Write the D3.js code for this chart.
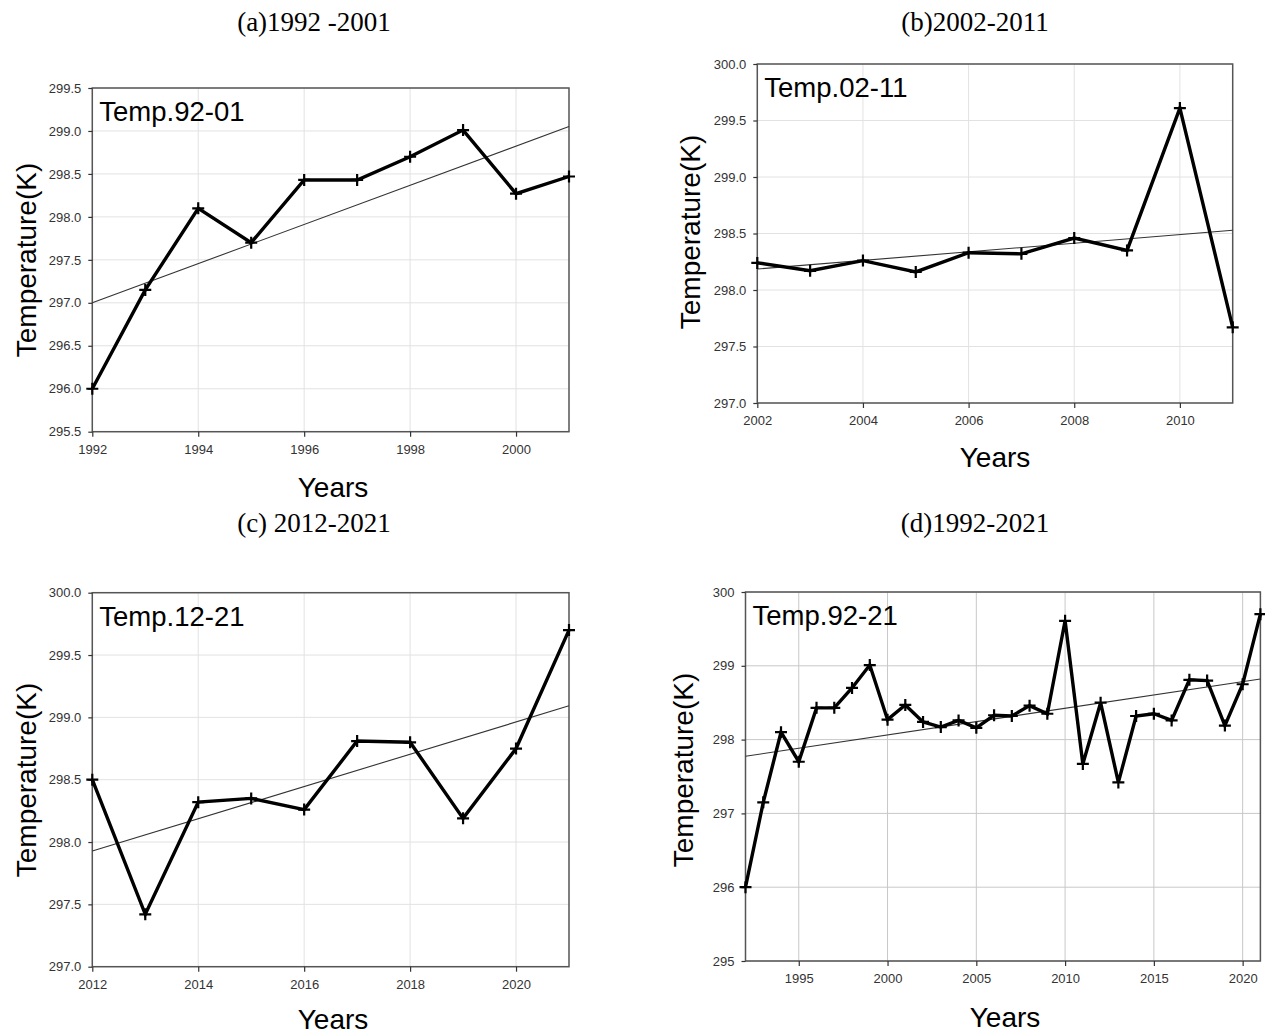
<!DOCTYPE html>
<html>
<head>
<meta charset="utf-8">
<script src="https://cdn.jsdelivr.net/npm/d3@7"></script>
<style>
  body { margin: 0; background: #fff; }
  svg { display: block; }
</style>
</head>
<body>
<svg id="chart" width="1265" height="1036"></svg>
<script>
// ---- Data ----
const yearsA = [1992, 1993, 1994, 1995, 1996, 1997, 1998, 1999, 2000, 2001];
const tempA  = [296.00, 297.15, 298.10, 297.70, 298.43, 298.43, 298.70, 299.01, 298.27, 298.47];

const yearsB = [2002, 2003, 2004, 2005, 2006, 2007, 2008, 2009, 2010, 2011];
const tempB  = [298.24, 298.17, 298.26, 298.16, 298.33, 298.32, 298.46, 298.35, 299.61, 297.67];

const yearsC = [2012, 2013, 2014, 2015, 2016, 2017, 2018, 2019, 2020, 2021];
const tempC  = [298.50, 297.42, 298.32, 298.35, 298.26, 298.81, 298.80, 298.19, 298.75, 299.70];

const yearsD = yearsA.concat(yearsB, yearsC);
const tempD  = tempA.concat(tempB, tempC);

const ticksYA = [295.5, 296.0, 296.5, 297.0, 297.5, 298.0, 298.5, 299.0, 299.5];
const ticksYB = [297.0, 297.5, 298.0, 298.5, 299.0, 299.5, 300.0];
const ticksYC = [297.0, 297.5, 298.0, 298.5, 299.0, 299.5, 300.0];
const ticksYD = [295, 296, 297, 298, 299, 300];

const ticksXA = [1992, 1994, 1996, 1998, 2000];
const ticksXB = [2002, 2004, 2006, 2008, 2010];
const ticksXC = [2012, 2014, 2016, 2018, 2020];
const ticksXD = [1995, 2000, 2005, 2010, 2015, 2020];

const panelTitles = ["(a)1992 -2001", "(b)2002-2011", "(c) 2012-2021", "(d)1992-2021"];
const insetLabels = ["Temp.92-01", "Temp.02-11", "Temp.12-21", "Temp.92-21"];

// ---- Layout ----
const svg = d3.select("#chart");
const SANS = "'Liberation Sans', Arial, sans-serif";
const SERIF = "'Liberation Serif', 'Times New Roman', serif";

const panels = [
  { years: yearsA, temps: tempA, ticksY: ticksYA, ticksX: ticksXA, yDom: [295.5, 299.5], fmt: d3.format(".1f"),
    box: { l: 92.3, r: 569, t: 88, b: 431.7 }, title: panelTitles[0], titlePos: [314, 31],
    inset: insetLabels[0], ytPos: [26, 260], xtPos: [333, 497], grid: "#e2e2e2" },
  { years: yearsB, temps: tempB, ticksY: ticksYB, ticksX: ticksXB, yDom: [297, 300], fmt: d3.format(".1f"),
    box: { l: 757.3, r: 1232.7, t: 64, b: 403 }, title: panelTitles[1], titlePos: [975, 31],
    inset: insetLabels[1], ytPos: [690, 232], xtPos: [995, 467], grid: "#e2e2e2" },
  { years: yearsC, temps: tempC, ticksY: ticksYC, ticksX: ticksXC, yDom: [297, 300], fmt: d3.format(".1f"),
    box: { l: 92.3, r: 569, t: 592.7, b: 966.7 }, title: panelTitles[2], titlePos: [314, 532],
    inset: insetLabels[2], ytPos: [26, 780], xtPos: [333, 1029], grid: "#e2e2e2" },
  { years: yearsD, temps: tempD, ticksY: ticksYD, ticksX: ticksXD, yDom: [295, 300], fmt: d3.format("d"),
    box: { l: 745.5, r: 1260.4, t: 592, b: 961 }, title: panelTitles[3], titlePos: [975, 532],
    inset: insetLabels[3], ytPos: [683, 770], xtPos: [1005, 1027], grid: "#c8c8c8" }
];

panels.forEach(p => {
  const x = d3.scaleLinear().domain(d3.extent(p.years)).range([p.box.l, p.box.r]);
  const y = d3.scaleLinear().domain(p.yDom).range([p.box.b, p.box.t]);
  const g = svg.append("g");

  // grid lines
  g.append("g").selectAll("line").data(p.ticksY).join("line")
    .attr("x1", p.box.l).attr("x2", p.box.r)
    .attr("y1", d => y(d)).attr("y2", d => y(d))
    .attr("stroke", p.grid).attr("stroke-width", 1);
  g.append("g").selectAll("line").data(p.ticksX).join("line")
    .attr("x1", d => x(d)).attr("x2", d => x(d))
    .attr("y1", p.box.t).attr("y2", p.box.b)
    .attr("stroke", p.grid).attr("stroke-width", 1);

  // frame
  g.append("rect")
    .attr("x", p.box.l).attr("y", p.box.t)
    .attr("width", p.box.r - p.box.l).attr("height", p.box.b - p.box.t)
    .attr("fill", "none").attr("stroke", "#555").attr("stroke-width", 1.5);

  // axes
  const xAxis = d3.axisBottom(x).tickValues(p.ticksX).tickFormat(d3.format("d")).tickSizeOuter(0).tickSize(5).tickPadding(8);
  const yAxis = d3.axisLeft(y).tickValues(p.ticksY).tickFormat(p.fmt).tickSizeOuter(0).tickSize(4).tickPadding(7);
  const gx = g.append("g").attr("transform", `translate(0,${p.box.b})`).call(xAxis);
  const gy = g.append("g").attr("transform", `translate(${p.box.l},0)`).call(yAxis);
  [gx, gy].forEach(ax => {
    ax.select(".domain").remove();
    ax.selectAll(".tick line").attr("stroke", "#333").attr("stroke-width", 1.2);
    ax.selectAll(".tick text").attr("fill", "#333")
      .style("font-family", SANS).style("font-size", "13px");
  });

  // trend line (least squares fit)
  const mx = d3.mean(p.years), my = d3.mean(p.temps);
  const sxy = d3.sum(p.years, (d, i) => (d - mx) * (p.temps[i] - my));
  const sxx = d3.sum(p.years, d => (d - mx) * (d - mx));
  const slope = sxy / sxx, icpt = my - slope * mx;
  const ext = d3.extent(p.years);
  g.append("line")
    .attr("x1", x(ext[0])).attr("y1", y(icpt + slope * ext[0]))
    .attr("x2", x(ext[1])).attr("y2", y(icpt + slope * ext[1]))
    .attr("stroke", "#333").attr("stroke-width", 1.1);

  // data line
  const pts = p.years.map((d, i) => [d, p.temps[i]]);
  g.append("path")
    .datum(pts)
    .attr("d", d3.line().x(d => x(d[0])).y(d => y(d[1])))
    .attr("fill", "none").attr("stroke", "#000").attr("stroke-width", 3.4)
    .attr("stroke-linejoin", "miter");

  // plus markers
  g.append("g").selectAll("path").data(pts).join("path")
    .attr("d", d => { const cx = x(d[0]), cy = y(d[1]), s = 6;
      return `M${cx - s},${cy}H${cx + s}M${cx},${cy - s}V${cy + s}`; })
    .attr("stroke", "#000").attr("stroke-width", 2.2).attr("fill", "none");

  // inset label
  g.append("text")
    .attr("x", p.box.l + 7).attr("y", p.box.t + 33)
    .style("font-family", SANS).style("font-size", "27.5px")
    .attr("fill", "#000").text(p.inset);

  // axis titles
  g.append("text")
    .attr("transform", `translate(${p.ytPos[0]},${p.ytPos[1]}) rotate(-90)`)
    .attr("text-anchor", "middle").attr("dominant-baseline", "central")
    .style("font-family", SANS).style("font-size", "28px")
    .attr("fill", "#000").text("Temperature(K)");
  g.append("text")
    .attr("x", p.xtPos[0]).attr("y", p.xtPos[1])
    .attr("text-anchor", "middle")
    .style("font-family", SANS).style("font-size", "28px")
    .attr("fill", "#000").text("Years");

  // panel title
  svg.append("text")
    .attr("x", p.titlePos[0]).attr("y", p.titlePos[1])
    .attr("text-anchor", "middle")
    .style("font-family", SERIF).style("font-size", "27px")
    .attr("fill", "#000").text(p.title);
});
</script>
</body>
</html>
